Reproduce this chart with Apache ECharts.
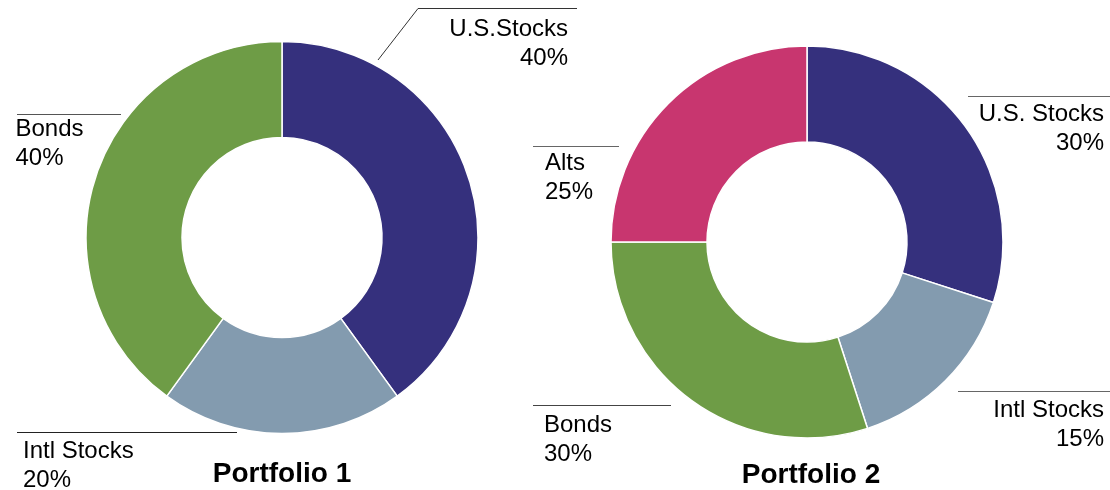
<!DOCTYPE html>
<html>
<head>
<meta charset="utf-8">
<script src="https://cdn.jsdelivr.net/npm/echarts@6/dist/echarts.min.js"></script>
<style>
  html, body { margin: 0; padding: 0; background: #fff; }
  #chart { width: 1110px; height: 490px; }
</style>
</head>
<body>
<div id="chart"></div>
<script>
// Allocation data for the two portfolios (percent of total)
const p1Names = ['U.S.Stocks', 'Intl Stocks', 'Bonds'];
const p1Values = [40, 20, 40];
const p2Names = ['U.S. Stocks', 'Intl Stocks', 'Bonds', 'Alts'];
const p2Values = [30, 15, 30, 25];
const portfolioTitles = ['Portfolio 1', 'Portfolio 2'];

// Slice colours by asset class
const assetColors = {
  'U.S.Stocks': '#35307D',
  'U.S. Stocks': '#35307D',
  'Intl Stocks': '#839BAF',
  'Bonds': '#6E9C46',
  'Alts': '#C8366F'
};

// Callout placement: text anchor and leader line for each slice
// (horizontal rules sit on half pixels so they render crisp)
const p1Callouts = {
  'U.S.Stocks': { x: 568, y: 15, align: 'right', line: [[378, 60], [418, 8.5], [577, 8.5]], lineColor: '#333' },
  'Intl Stocks': { x: 23, y: 437, align: 'left', line: [[237, 432.5], [120, 432.5], [17, 432.5]], lineColor: '#222' },
  'Bonds': { x: 15.5, y: 115, align: 'left', line: [[121, 114.5], [60, 114.5], [17, 114.5]], lineColor: '#555' }
};
const p2Callouts = {
  'U.S. Stocks': { x: 1104, y: 100, align: 'right', line: [[968, 96.5], [1040, 96.5], [1110, 96.5]], lineColor: '#666' },
  'Intl Stocks': { x: 1104, y: 396, align: 'right', line: [[958, 391.5], [1040, 391.5], [1110, 391.5]], lineColor: '#666' },
  'Bonds': { x: 544, y: 411, align: 'left', line: [[671, 405.5], [600, 405.5], [533, 405.5]], lineColor: '#444' },
  'Alts': { x: 545, y: 149, align: 'left', line: [[619, 146.5], [580, 146.5], [533, 146.5]], lineColor: '#666' }
};

const FONT = '"Liberation Sans", Arial, sans-serif';

function buildData(names, values, callouts) {
  return names.map((name, i) => ({
    name: name,
    value: values[i],
    itemStyle: { color: assetColors[name] },
    labelLine: { lineStyle: { color: callouts[name].lineColor } }
  }));
}

function makeLayout(names, callouts) {
  return function (params) {
    const c = callouts[names[params.dataIndex]];
    return {
      x: c.x,
      y: c.y,
      align: c.align,
      verticalAlign: 'top',
      labelLinePoints: c.line
    };
  };
}

function pieSeries(names, values, callouts, center) {
  return {
    type: 'pie',
    center: center,
    radius: [100, 196],
    startAngle: 90,
    clockwise: true,
    avoidLabelOverlap: false,
    silent: true,
    data: buildData(names, values, callouts),
    itemStyle: { borderColor: '#ffffff', borderWidth: 1.5 },
    label: {
      show: true,
      position: 'outside',
      formatter: '{b}\n{c}%',
      fontFamily: FONT,
      fontSize: 24,
      lineHeight: 29,
      color: '#000'
    },
    labelLine: {
      show: true,
      smooth: false,
      lineStyle: { width: 1 }
    },
    labelLayout: makeLayout(names, callouts),
    emphasis: { disabled: true }
  };
}

const chart = echarts.init(document.getElementById('chart'), null, { renderer: 'canvas' });
chart.setOption({
  animation: false,
  backgroundColor: '#ffffff',
  title: [
    {
      text: portfolioTitles[0], left: 282, top: 460, textAlign: 'center', padding: 0,
      textStyle: { fontFamily: FONT, fontSize: 28, fontWeight: 'bold', color: '#000' }
    },
    {
      text: portfolioTitles[1], left: 811, top: 461, textAlign: 'center', padding: 0,
      textStyle: { fontFamily: FONT, fontSize: 28, fontWeight: 'bold', color: '#000' }
    }
  ],
  series: [
    pieSeries(p1Names, p1Values, p1Callouts, [282, 237.5]),
    pieSeries(p2Names, p2Values, p2Callouts, [807, 242])
  ]
});
</script>
</body>
</html>
